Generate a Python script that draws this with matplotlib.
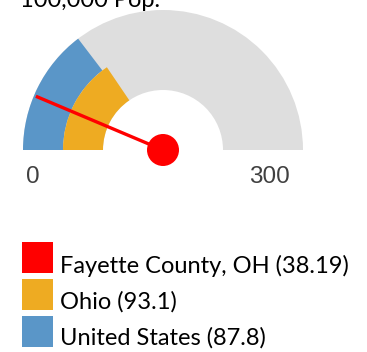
import matplotlib
matplotlib.use("Agg")
import numpy as np
import matplotlib.pyplot as plt
from matplotlib.patches import Wedge, Rectangle, Circle

# gauge data (rate per 100,000 pop.)
gauge_max = 300
labels = ["Fayette County, OH", "Ohio", "United States"]
values = [38.19, 93.1, 87.8]
colors = ["#ff0000", "#eeab22", "#5a96c8"]
tick_labels = ["0", "300"]

W, H = 367, 352
fig = plt.figure(figsize=(W / 100, H / 100), dpi=100)
ax = fig.add_axes([0, 0, 1, 1])
ax.set_xlim(0, W)
ax.set_ylim(0, H)
ax.set_aspect("equal")
ax.axis("off")

cx, cy = 163, H - 150
r_out, r_mid, r_in = 140, 100, 60


def angle(v):
    return 180 - v / gauge_max * 180


# background track
ax.add_patch(Wedge((cx, cy), r_out, 0, 180, width=r_out - r_in, color="#dedede", lw=0))
# United States on outer ring, Ohio on inner ring
ax.add_patch(Wedge((cx, cy), r_out, angle(values[2]), 180, width=r_out - r_mid, color=colors[2], lw=0))
ax.add_patch(Wedge((cx, cy), r_mid, angle(values[1]), 180, width=r_mid - r_in, color=colors[1], lw=0))

# needle for the county value
a = np.radians(angle(values[0]))
ax.plot([cx, cx + 138 * np.cos(a)], [cy, cy + 138 * np.sin(a)], color=colors[0], lw=2.4, solid_capstyle="butt")
ax.add_patch(Circle((cx, cy), 16, color=colors[0], lw=0))

ax.text(33, H - 177, tick_labels[0], ha="center", va="center", fontsize=17.5,
        family="Liberation Sans", color="#404040")
ax.text(269, H - 177, tick_labels[1], ha="center", va="center", fontsize=17.5,
        family="Liberation Sans", color="#404040")

# title, partly above the top edge
ax.text(20, H - 7, "100,000 Pop.", ha="left", va="baseline", fontsize=17,
        family="Lato", color="black")

# legend
sq_tops = [242, 279, 316]
baselines = [273, 309, 345]
for lab, v, c, t, b in zip(labels, values, colors, sq_tops, baselines):
    ax.add_patch(Rectangle((22, H - t - 31), 31, 31, color=c, lw=0))
    ax.text(60, H - b, f"{lab} ({v:g})", ha="left", va="baseline", fontsize=17,
            family="Lato", color="black")

fig.savefig("out.png", dpi=100)
